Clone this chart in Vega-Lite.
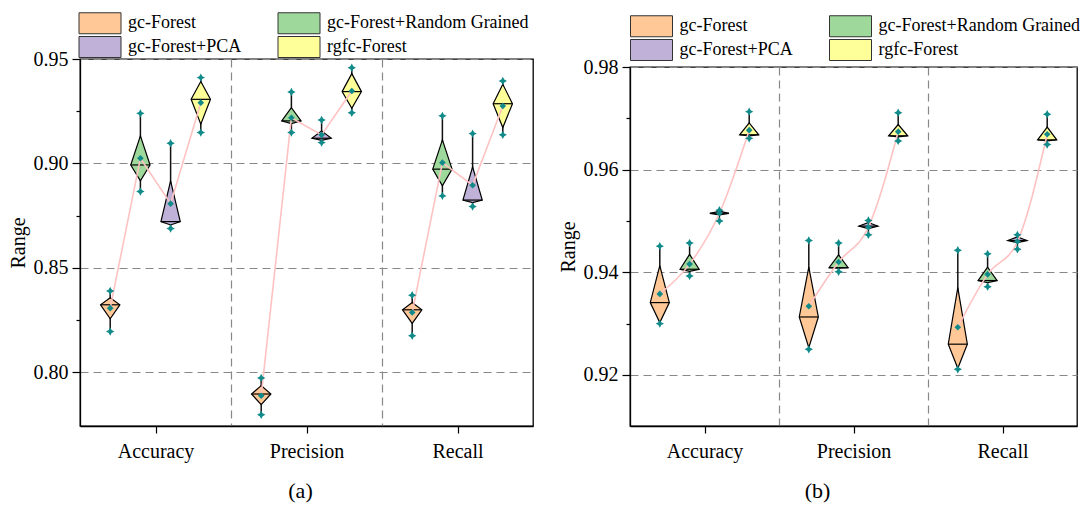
{
  "$schema": "https://vega.github.io/schema/vega-lite/v6.json",
  "padding": {"left": 7, "top": 11, "right": 4, "bottom": 4},
  "config": {
    "font": "Liberation Serif",
    "view": {"stroke": "#000", "strokeWidth": 1.3},
    "axis": {
      "labelFont": "Liberation Serif", "labelFontSize": 20, "labelColor": "#000",
      "titleFont": "Liberation Serif", "titleFontSize": 20, "titleFontWeight": "normal", "titleColor": "#000",
      "domainColor": "#000", "domainWidth": 1.3, "tickColor": "#000", "tickWidth": 1.2,
      "gridColor": "#888", "gridDash": [8, 5], "gridWidth": 1.2,
      "labelOverlap": false, "labelFlush": false, "labelBound": false
    }
  },
  "datasets": {
    "a": [
      {"metric": "Accuracy", "method": "gc-Forest", "min": 0.8196, "lower": 0.8257, "median": 0.8324, "upper": 0.8358, "max": 0.8390, "mean": 0.8308},
      {"metric": "Accuracy", "method": "gc-Forest+Random Grained", "min": 0.8866, "lower": 0.8917, "median": 0.8993, "upper": 0.9132, "max": 0.9240, "mean": 0.9025},
      {"metric": "Accuracy", "method": "gc-Forest+PCA", "min": 0.8689, "lower": 0.8706, "median": 0.8722, "upper": 0.8917, "max": 0.9097, "mean": 0.8808},
      {"metric": "Accuracy", "method": "rgfc-Forest", "min": 0.9148, "lower": 0.9188, "median": 0.9307, "upper": 0.9392, "max": 0.9411, "mean": 0.9291},
      {"metric": "Precision", "method": "gc-Forest", "min": 0.7798, "lower": 0.7846, "median": 0.7897, "upper": 0.7937, "max": 0.7974, "mean": 0.7889},
      {"metric": "Precision", "method": "gc-Forest+Random Grained", "min": 0.9148, "lower": 0.9191, "median": 0.9204, "upper": 0.9267, "max": 0.9342, "mean": 0.9219},
      {"metric": "Precision", "method": "gc-Forest+PCA", "min": 0.9100, "lower": 0.9111, "median": 0.9121, "upper": 0.9156, "max": 0.9208, "mean": 0.9137},
      {"metric": "Precision", "method": "rgfc-Forest", "min": 0.9243, "lower": 0.9264, "median": 0.9344, "upper": 0.9430, "max": 0.9458, "mean": 0.9347},
      {"metric": "Recall", "method": "gc-Forest", "min": 0.8176, "lower": 0.8235, "median": 0.8300, "upper": 0.8335, "max": 0.8370, "mean": 0.8287},
      {"metric": "Recall", "method": "gc-Forest+Random Grained", "min": 0.8845, "lower": 0.8893, "median": 0.8973, "upper": 0.9113, "max": 0.9228, "mean": 0.9004},
      {"metric": "Recall", "method": "gc-Forest+PCA", "min": 0.8794, "lower": 0.8813, "median": 0.8825, "upper": 0.8984, "max": 0.9143, "mean": 0.8896},
      {"metric": "Recall", "method": "rgfc-Forest", "min": 0.9137, "lower": 0.9172, "median": 0.9286, "upper": 0.9379, "max": 0.9395, "mean": 0.9275}
    ],
    "b": [
      {"metric": "Accuracy", "method": "gc-Forest", "min": 0.9300, "lower": 0.9302, "median": 0.9341, "upper": 0.9413, "max": 0.9451, "mean": 0.9358},
      {"metric": "Accuracy", "method": "gc-Forest+Random Grained", "min": 0.9393, "lower": 0.9402, "median": 0.9406, "upper": 0.9435, "max": 0.9457, "mean": 0.9416},
      {"metric": "Accuracy", "method": "gc-Forest+PCA", "min": 0.9500, "lower": 0.9512, "median": 0.9515, "upper": 0.9519, "max": 0.9521, "mean": 0.9515},
      {"metric": "Accuracy", "method": "rgfc-Forest", "min": 0.9661, "lower": 0.9666, "median": 0.9668, "upper": 0.9691, "max": 0.9713, "mean": 0.9677},
      {"metric": "Precision", "method": "gc-Forest", "min": 0.9250, "lower": 0.9253, "median": 0.9313, "upper": 0.9410, "max": 0.9462, "mean": 0.9334},
      {"metric": "Precision", "method": "gc-Forest+Random Grained", "min": 0.9401, "lower": 0.9408, "median": 0.9409, "upper": 0.9434, "max": 0.9457, "mean": 0.9420},
      {"metric": "Precision", "method": "gc-Forest+PCA", "min": 0.9473, "lower": 0.9485, "median": 0.9490, "upper": 0.9497, "max": 0.9501, "mean": 0.9488},
      {"metric": "Precision", "method": "rgfc-Forest", "min": 0.9656, "lower": 0.9664, "median": 0.9666, "upper": 0.9688, "max": 0.9711, "mean": 0.9674},
      {"metric": "Recall", "method": "gc-Forest", "min": 0.9211, "lower": 0.9213, "median": 0.9260, "upper": 0.9370, "max": 0.9443, "mean": 0.9293},
      {"metric": "Recall", "method": "gc-Forest+Random Grained", "min": 0.9372, "lower": 0.9380, "median": 0.9384, "upper": 0.9410, "max": 0.9436, "mean": 0.9396},
      {"metric": "Recall", "method": "gc-Forest+PCA", "min": 0.9445, "lower": 0.9458, "median": 0.9462, "upper": 0.9469, "max": 0.9473, "mean": 0.9460},
      {"metric": "Recall", "method": "rgfc-Forest", "min": 0.9649, "lower": 0.9656, "median": 0.9658, "upper": 0.9683, "max": 0.9708, "mean": 0.9669}
    ]
  },
  "resolve": {"scale": {"color": "independent"}},
  "spacing": 23,
  "hconcat": [
    {
      "width": 453, "height": 367,
      "data": {"name": "a"},
      "title": {"text": "(a)", "orient": "bottom", "frame": "group", "anchor": "middle", "dx": -6, "offset": 20, "font": "Liberation Serif", "fontSize": 22, "fontWeight": "normal", "color": "#000"},
      "transform": [
        {"calculate": "indexof(['Accuracy','Precision','Recall'], datum.metric) + 0.5 + (indexof(['gc-Forest','gc-Forest+Random Grained','gc-Forest+PCA','rgfc-Forest'], datum.method) - 1.5) * 0.2", "as": "pos"},
        {"calculate": "datum.pos - 0.064", "as": "xl"},
        {"calculate": "datum.pos + 0.064", "as": "xr"}
      ],
      "layer": [
        {
          "mark": {"type": "rule", "color": "#111", "strokeWidth": 1.5},
          "encoding": {
            "x": {"field": "pos", "type": "quantitative", "title": null,
              "scale": {"domain": [0, 3], "nice": false, "zero": false},
              "axis": {"values": [0.5, 1, 1.5, 2, 2.5],
                "labelExpr": "datum.value == 0.5 ? 'Accuracy' : datum.value == 1.5 ? 'Precision' : datum.value == 2.5 ? 'Recall' : ''",
                "tickSize": 7, "labelPadding": 8, "grid": true,
                "tickOpacity": {"condition": {"test": "datum.value % 1 == 0", "value": 0}, "value": 1},
                "gridOpacity": {"condition": {"test": "datum.value % 1 == 0", "value": 1}, "value": 0}}},
            "y": {"field": "min", "type": "quantitative", "title": "Range",
              "scale": {"domain": [0.7744, 0.95], "nice": false, "zero": false},
              "axis": {"values": [0.8, 0.825, 0.85, 0.875, 0.9, 0.925, 0.95],
                "labelExpr": "round(datum.value * 1000) % 50 == 0 ? format(datum.value, '.2f') : ''",
                "labelPadding": 4, "titlePadding": 5, "grid": true,
                "tickSize": {"condition": {"test": "round(datum.value * 1000) % 50 == 0", "value": 8}, "value": 4},
                "gridOpacity": {"condition": {"test": "round(datum.value * 1000) % 50 == 0", "value": 1}, "value": 0}}},
            "y2": {"field": "max"}
          }
        },
        {
          "transform": [
            {"fold": ["upper", "median", "lower"], "as": ["pt", "val"]},
            {"calculate": "datum.pt == 'median' ? 0.064 : 0", "as": "w"},
            {"calculate": "datum.pos - datum.w", "as": "kx1"},
            {"calculate": "datum.pos + datum.w", "as": "kx2"}
          ],
          "mark": {"type": "area", "orient": "horizontal", "stroke": "#000", "strokeWidth": 1.2, "opacity": 1, "fillOpacity": 1, "interpolate": "linear"},
          "encoding": {
            "y": {"field": "val", "type": "quantitative", "title": "Range"},
            "x": {"field": "kx1", "type": "quantitative", "stack": null, "title": null},
            "x2": {"field": "kx2"},
            "detail": {"field": "metric"},
            "color": {"field": "method", "type": "nominal",
              "scale": {"domain": ["gc-Forest", "gc-Forest+PCA", "gc-Forest+Random Grained", "rgfc-Forest"], "range": ["#FFC896", "#BFB1D8", "#9FD89B", "#FFFF99"]},
              "legend": {"orient": "none", "legendX": 9, "legendY": -47, "columns": 2, "title": null, "padding": 0,
                "symbolType": "M-2,-1H2V1H-2Z", "symbolSize": 441, "symbolStrokeColor": "#333", "symbolStrokeWidth": 1, "symbolOpacity": 1,
                "labelFont": "Liberation Serif", "labelFontSize": 18, "labelColor": "#000", "labelOffset": 17, "labelLimit": 400,
                "columnPadding": 34, "rowPadding": -3.5}}
          }
        },
        {
          "mark": {"type": "rule", "color": "#000", "strokeWidth": 1.2},
          "encoding": {
            "x": {"field": "xl", "type": "quantitative", "title": null},
            "x2": {"field": "xr"},
            "y": {"field": "median", "type": "quantitative", "title": "Range"}
          }
        },
        {
          "mark": {"type": "line", "color": "#FFC2C2", "strokeWidth": 1.6, "interpolate": "linear"},
          "encoding": {
            "x": {"field": "pos", "type": "quantitative", "title": null},
            "y": {"field": "mean", "type": "quantitative", "title": "Range"},
            "detail": {"field": "metric"}
          }
        },
        {
          "transform": [{"fold": ["min", "max"], "as": ["k", "v"]}],
          "mark": {"type": "point", "shape": "M0,-1L0.35,-0.35L1,0L0.35,0.35L0,1L-0.35,0.35L-1,0L-0.35,-0.35Z", "size": 70, "filled": true, "color": "#118A8A", "opacity": 1},
          "encoding": {
            "x": {"field": "pos", "type": "quantitative", "title": null},
            "y": {"field": "v", "type": "quantitative", "title": "Range"}
          }
        },
        {
          "mark": {"type": "point", "shape": "diamond", "size": 44, "filled": true, "color": "#118A8A", "opacity": 1},
          "encoding": {
            "x": {"field": "pos", "type": "quantitative", "title": null},
            "y": {"field": "mean", "type": "quantitative", "title": "Range"}
          }
        }
      ]
    },
    {
      "spacing": 0,
      "bounds": "flush",
      "resolve": {"scale": {"color": "independent"}},
      "vconcat": [
        {
          "width": 447, "height": 8,
          "view": {"stroke": null},
          "data": {"values": [{}]},
          "mark": {"type": "point", "opacity": 0}
        },
        {
          "width": 447, "height": 359,
          "data": {"name": "b"},
          "title": {"text": "(b)", "orient": "bottom", "frame": "group", "anchor": "middle", "dx": -36, "offset": 20, "font": "Liberation Serif", "fontSize": 22, "fontWeight": "normal", "color": "#000"},
          "transform": [
            {"calculate": "indexof(['Accuracy','Precision','Recall'], datum.metric) + 0.5 + (indexof(['gc-Forest','gc-Forest+Random Grained','gc-Forest+PCA','rgfc-Forest'], datum.method) - 1.5) * 0.2", "as": "pos"},
            {"calculate": "datum.pos - 0.064", "as": "xl"},
            {"calculate": "datum.pos + 0.064", "as": "xr"}
          ],
          "layer": [
            {
              "mark": {"type": "rule", "color": "#111", "strokeWidth": 1.5},
              "encoding": {
                "x": {"field": "pos", "type": "quantitative", "title": null,
                  "scale": {"domain": [0, 3], "nice": false, "zero": false},
                  "axis": {"values": [0.5, 1, 1.5, 2, 2.5],
                    "labelExpr": "datum.value == 0.5 ? 'Accuracy' : datum.value == 1.5 ? 'Precision' : datum.value == 2.5 ? 'Recall' : ''",
                    "tickSize": 7, "labelPadding": 8, "grid": true,
                    "tickOpacity": {"condition": {"test": "datum.value % 1 == 0", "value": 0}, "value": 1},
                    "gridOpacity": {"condition": {"test": "datum.value % 1 == 0", "value": 1}, "value": 0}}},
                "y": {"field": "min", "type": "quantitative", "title": "Range",
                  "scale": {"domain": [0.91006, 0.98], "nice": false, "zero": false},
                  "axis": {"values": [0.92, 0.93, 0.94, 0.95, 0.96, 0.97, 0.98],
                    "labelExpr": "round(datum.value * 100) % 2 == 0 ? format(datum.value, '.2f') : ''",
                    "labelPadding": 4, "titlePadding": 5, "grid": true,
                    "tickSize": {"condition": {"test": "round(datum.value * 100) % 2 == 0", "value": 8}, "value": 4},
                    "gridOpacity": {"condition": {"test": "round(datum.value * 100) % 2 == 0", "value": 1}, "value": 0}}},
                "y2": {"field": "max"}
              }
            },
            {
              "transform": [
                {"fold": ["upper", "median", "lower"], "as": ["pt", "val"]},
                {"calculate": "datum.pt == 'median' ? 0.064 : 0", "as": "w"},
                {"calculate": "datum.pos - datum.w", "as": "kx1"},
                {"calculate": "datum.pos + datum.w", "as": "kx2"}
              ],
              "mark": {"type": "area", "orient": "horizontal", "stroke": "#000", "strokeWidth": 1.2, "opacity": 1, "fillOpacity": 1, "interpolate": "linear"},
              "encoding": {
                "y": {"field": "val", "type": "quantitative", "title": "Range"},
                "x": {"field": "kx1", "type": "quantitative", "stack": null, "title": null},
                "x2": {"field": "kx2"},
                "detail": {"field": "metric"},
                "color": {"field": "method", "type": "nominal",
                  "scale": {"domain": ["gc-Forest", "gc-Forest+PCA", "gc-Forest+Random Grained", "rgfc-Forest"], "range": ["#FFC896", "#BFB1D8", "#9FD89B", "#FFFF99"]},
                  "legend": {"orient": "none", "legendX": 10.5, "legendY": -52, "columns": 2, "title": null, "padding": 0,
                    "symbolType": "M-2,-1H2V1H-2Z", "symbolSize": 441, "symbolStrokeColor": "#333", "symbolStrokeWidth": 1, "symbolOpacity": 1,
                    "labelFont": "Liberation Serif", "labelFontSize": 18, "labelColor": "#000", "labelOffset": 17, "labelLimit": 400,
                    "columnPadding": 34, "rowPadding": -3.5}}
              }
            },
            {
              "mark": {"type": "rule", "color": "#000", "strokeWidth": 1.2},
              "encoding": {
                "x": {"field": "xl", "type": "quantitative", "title": null},
                "x2": {"field": "xr"},
                "y": {"field": "median", "type": "quantitative", "title": "Range"}
              }
            },
            {
              "mark": {"type": "line", "color": "#FFC2C2", "strokeWidth": 1.6, "interpolate": "monotone"},
              "encoding": {
                "x": {"field": "pos", "type": "quantitative", "title": null},
                "y": {"field": "mean", "type": "quantitative", "title": "Range"},
                "detail": {"field": "metric"}
              }
            },
            {
              "transform": [{"fold": ["min", "max"], "as": ["k", "v"]}],
              "mark": {"type": "point", "shape": "M0,-1L0.35,-0.35L1,0L0.35,0.35L0,1L-0.35,0.35L-1,0L-0.35,-0.35Z", "size": 70, "filled": true, "color": "#118A8A", "opacity": 1},
              "encoding": {
                "x": {"field": "pos", "type": "quantitative", "title": null},
                "y": {"field": "v", "type": "quantitative", "title": "Range"}
              }
            },
            {
              "mark": {"type": "point", "shape": "diamond", "size": 44, "filled": true, "color": "#118A8A", "opacity": 1},
              "encoding": {
                "x": {"field": "pos", "type": "quantitative", "title": null},
                "y": {"field": "mean", "type": "quantitative", "title": "Range"}
              }
            }
          ]
        }
      ]
    }
  ]
}
